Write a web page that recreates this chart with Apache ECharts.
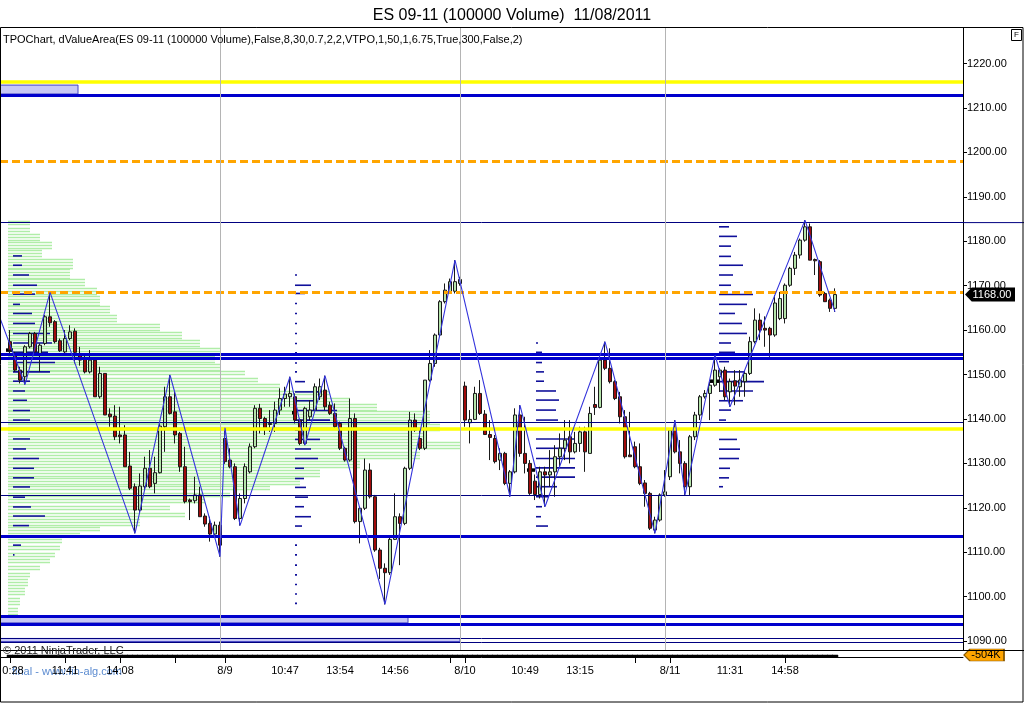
<!DOCTYPE html>
<html>
<head>
<meta charset="utf-8">
<title>ES 09-11 (100000 Volume)</title>
<script src="https://cdn.jsdelivr.net/npm/echarts@6.0.0/dist/echarts.min.js"></script>
<style>
	html, body { margin: 0; padding: 0; background: #fff; }
	#chart { width: 1024px; height: 703px; }
</style>
</head>
<body>
<div id="chart"></div>
<script>
// one bar per 100000 contracts: [open, close, low, high]
var day0808 = [
	[1157.4, 1155.5, 1154.75, 1160.0], [1154.75, 1151.0, 1150.6, 1155.1], [1151.0, 1148.75, 1148.0, 1151.75],
	[1149.5, 1156.25, 1147.75, 1156.6], [1156.25, 1159.25, 1155.9, 1159.6], [1159.25, 1155.1, 1154.75, 1159.6],
	[1154.75, 1156.6, 1150.6, 1157.0], [1157.0, 1163.0, 1156.6, 1163.4], [1163.0, 1161.65, 1160.75, 1168.5],
	[1161.9, 1157.4, 1157.0, 1162.25], [1157.6, 1155.35, 1155.1, 1158.1], [1155.1, 1158.1, 1154.75, 1160.0],
	[1158.1, 1159.6, 1157.75, 1161.1], [1159.75, 1155.0, 1152.5, 1160.4], [1154.75, 1153.25, 1152.0, 1156.25],
	[1153.6, 1150.6, 1150.25, 1154.75], [1150.6, 1153.25, 1150.25, 1155.5], [1153.25, 1145.0, 1145.0, 1153.6],
	[1145.0, 1150.25, 1144.6, 1151.75], [1150.25, 1140.9, 1140.9, 1150.25], [1141.1, 1140.5, 1138.25, 1142.4],
	[1140.65, 1136.0, 1135.25, 1143.1], [1136.4, 1136.0, 1134.5, 1142.75], [1136.4, 1129.25, 1129.25, 1138.6],
	[1129.4, 1124.4, 1124.0, 1132.6], [1124.75, 1119.5, 1114.25, 1125.5], [1119.5, 1124.9, 1118.75, 1127.75],
	[1124.75, 1128.9, 1124.0, 1131.5], [1128.9, 1124.75, 1124.4, 1133.0], [1125.5, 1127.9, 1123.25, 1131.5],
	[1127.9, 1138.4, 1127.75, 1139.0], [1138.25, 1145.0, 1132.6, 1147.25], [1145.0, 1141.25, 1141.0, 1149.9],
	[1141.6, 1136.4, 1134.5, 1146.1], [1136.75, 1129.25, 1128.1, 1137.1], [1129.25, 1121.4, 1121.0, 1133.75],
	[1121.75, 1121.4, 1117.25, 1122.1], [1121.6, 1122.9, 1121.0, 1127.0], [1122.9, 1118.0, 1118.0, 1124.75],
	[1118.15, 1116.35, 1115.75, 1118.75], [1116.5, 1114.1, 1112.4, 1118.0], [1114.1, 1116.1, 1113.9, 1116.9],
	[1116.1, 1111.6, 1109.0, 1116.9]
];
var day0809 = [
	[1135.6, 1130.4, 1129.9, 1138.0], [1130.75, 1129.25, 1128.9, 1133.4], [1129.25, 1117.6, 1117.25, 1130.0],
	[1117.6, 1122.1, 1116.0, 1123.25], [1122.1, 1129.25, 1121.0, 1130.0], [1128.1, 1133.75, 1127.75, 1134.5],
	[1133.75, 1142.4, 1133.4, 1143.1], [1142.4, 1140.1, 1136.75, 1143.4], [1140.1, 1137.9, 1136.4, 1140.5],
	[1138.75, 1139.0, 1137.1, 1142.0], [1139.0, 1142.0, 1137.1, 1143.9], [1142.0, 1144.6, 1140.9, 1146.9],
	[1144.6, 1145.6, 1142.75, 1147.25], [1145.0, 1145.75, 1142.75, 1149.5], [1145.0, 1139.75, 1139.0, 1145.75],
	[1139.75, 1134.5, 1134.1, 1140.1], [1134.5, 1142.4, 1134.1, 1142.75], [1140.5, 1142.0, 1139.75, 1144.25],
	[1142.0, 1147.25, 1142.0, 1148.0], [1145.0, 1147.25, 1144.25, 1149.1], [1146.5, 1142.75, 1142.0, 1149.75],
	[1143.1, 1141.25, 1140.9, 1143.9], [1141.25, 1138.25, 1137.9, 1143.5], [1139.0, 1133.4, 1133.0, 1139.4],
	[1133.4, 1130.75, 1130.4, 1133.75], [1130.75, 1140.1, 1130.4, 1144.6], [1140.1, 1116.9, 1116.5, 1141.25],
	[1116.9, 1119.9, 1112.0, 1120.25], [1119.9, 1128.5, 1119.5, 1131.1], [1128.5, 1122.5, 1122.1, 1130.0],
	[1122.5, 1110.5, 1110.1, 1122.9], [1110.5, 1106.4, 1104.0, 1111.0], [1106.4, 1105.4, 1098.25, 1107.5],
	[1105.4, 1112.9, 1104.9, 1113.5], [1112.9, 1118.0, 1112.75, 1123.25], [1118.0, 1116.5, 1107.1, 1118.75],
	[1116.5, 1128.9, 1116.1, 1129.25], [1128.9, 1139.75, 1128.5, 1141.6], [1139.75, 1137.5, 1137.1, 1141.25],
	[1135.6, 1133.4, 1133.0, 1137.5], [1133.4, 1148.75, 1133.0, 1148.75], [1148.75, 1152.5, 1148.4, 1155.5],
	[1152.5, 1158.9, 1151.75, 1159.25], [1158.9, 1166.4, 1158.5, 1166.75], [1166.4, 1169.0, 1166.0, 1170.5],
	[1168.25, 1170.9, 1168.25, 1171.6], [1168.75, 1170.9, 1168.25, 1175.75], [1170.5, 1171.4, 1170.0, 1172.0]
];
var day0810 = [
	[1147.4, 1139.75, 1138.25, 1148.4], [1139.15, 1139.9, 1134.5, 1142.0], [1139.9, 1145.75, 1139.75, 1147.25],
	[1145.75, 1141.25, 1140.9, 1148.75], [1141.1, 1136.5, 1136.4, 1142.0], [1136.5, 1135.85, 1130.75, 1139.75],
	[1135.6, 1130.4, 1130.0, 1136.4], [1130.75, 1132.25, 1128.5, 1133.4], [1132.25, 1125.5, 1125.1, 1132.6],
	[1125.5, 1128.1, 1122.5, 1128.5], [1128.1, 1140.9, 1127.75, 1142.4], [1140.9, 1132.25, 1131.5, 1143.1],
	[1132.25, 1130.0, 1127.75, 1140.5], [1130.0, 1123.25, 1122.9, 1130.75], [1126.0, 1123.0, 1121.75, 1127.5],
	[1123.0, 1128.1, 1122.1, 1129.25], [1128.1, 1127.4, 1120.25, 1129.25], [1127.4, 1128.1, 1124.75, 1133.0],
	[1128.1, 1131.5, 1122.5, 1134.1], [1131.5, 1133.4, 1129.25, 1136.75], [1133.4, 1135.25, 1130.75, 1139.75],
	[1136.0, 1132.6, 1130.0, 1139.75], [1132.6, 1134.5, 1132.25, 1137.1], [1134.5, 1137.1, 1132.6, 1138.25],
	[1137.1, 1132.6, 1128.1, 1138.25], [1132.25, 1141.25, 1132.25, 1142.75], [1143.25, 1142.6, 1140.9, 1147.25],
	[1142.6, 1153.25, 1142.4, 1154.0], [1153.25, 1151.4, 1151.0, 1157.4], [1151.4, 1148.4, 1148.0, 1155.9],
	[1148.4, 1144.6, 1144.25, 1148.75], [1145.0, 1140.5, 1139.0, 1146.1], [1140.5, 1131.5, 1131.1, 1142.0],
	[1131.9, 1131.5, 1131.5, 1141.6], [1133.75, 1129.25, 1128.9, 1134.9], [1129.25, 1125.5, 1125.1, 1134.5],
	[1125.6, 1123.25, 1120.25, 1126.25], [1123.25, 1115.4, 1115.0, 1123.6], [1115.0, 1117.25, 1114.25, 1118.0],
	[1117.25, 1122.9, 1116.9, 1123.25]
];
var day0811 = [
	[1122.9, 1123.6, 1122.5, 1128.5], [1127.0, 1137.5, 1126.25, 1137.5], [1137.5, 1132.6, 1132.25, 1139.75],
	[1132.6, 1130.0, 1127.75, 1135.25], [1130.0, 1124.75, 1122.9, 1130.5], [1124.75, 1136.0, 1122.9, 1136.4],
	[1136.0, 1140.9, 1135.25, 1141.6], [1140.9, 1145.0, 1139.75, 1145.4], [1145.0, 1145.75, 1144.6, 1146.5],
	[1145.75, 1147.6, 1139.75, 1148.4], [1147.6, 1151.0, 1147.25, 1154.4], [1149.5, 1151.0, 1146.1, 1151.4],
	[1151.0, 1145.0, 1144.25, 1151.75], [1146.1, 1148.4, 1142.75, 1149.1], [1148.6, 1147.4, 1143.1, 1151.0],
	[1147.25, 1148.75, 1145.0, 1151.0], [1148.4, 1150.25, 1145.0, 1151.0], [1150.25, 1157.4, 1149.9, 1158.5],
	[1157.4, 1162.25, 1157.0, 1164.9], [1162.25, 1160.0, 1157.75, 1163.75], [1160.4, 1160.0, 1156.25, 1163.1],
	[1160.4, 1158.9, 1154.0, 1160.75], [1158.9, 1166.1, 1158.5, 1167.9], [1162.6, 1167.1, 1162.25, 1168.6],
	[1162.6, 1170.1, 1161.5, 1170.5], [1170.1, 1173.9, 1169.75, 1174.25], [1173.9, 1176.9, 1172.4, 1177.6],
	[1176.9, 1180.25, 1176.1, 1180.6], [1180.25, 1183.25, 1179.9, 1184.75], [1183.25, 1175.75, 1175.75, 1184.0],
	[1175.9, 1175.6, 1172.4, 1176.1], [1175.4, 1167.9, 1167.5, 1175.75], [1168.25, 1166.4, 1166.4, 1168.6],
	[1166.75, 1164.9, 1164.1, 1167.1], [1164.9, 1168.0, 1164.1, 1169.4]
];
var barVolume = 100000;

// zigzag swing points (bar index, price)
var zigIdx = [-2, 3, 8, 25, 32, 42, 43, 46, 56, 59, 63, 75, 89, 100, 102, 107, 119, 129, 133, 135, 141, 144, 159, 165];
var zigPrice = [1162.7, 1147.75, 1168.5, 1114.25, 1149.9, 1109.0, 1138.0, 1116.0, 1149.5, 1134.1, 1149.75, 1098.25,
	1175.75, 1122.5, 1143.1, 1120.25, 1157.4, 1114.25, 1139.75, 1122.9, 1154.4, 1142.75, 1184.75, 1164.1];

// volume at price (composite profile)
var profilePrice = [1184.0, 1182.5, 1181.0, 1179.1, 1177.25, 1175.0, 1172.75, 1170.5, 1169.0, 1166.75,
	1164.5, 1162.6, 1160.75, 1158.9, 1157.0, 1155.5, 1153.25, 1151.75, 1150.25, 1148.75,
	1147.25, 1145.75, 1144.25, 1142.75, 1141.25, 1140.1, 1137.9, 1136.4, 1133.75, 1131.9,
	1129.6, 1128.1, 1125.9, 1124.4, 1122.9, 1121.4, 1119.9, 1118.4, 1116.9, 1115.0,
	1113.9, 1112.4, 1110.9, 1109.4, 1107.9, 1106.4, 1104.9, 1103.4, 1101.1, 1098.9, 1096.6];
var profileVol = [22, 22, 32, 44, 34, 65, 62, 77, 89, 92,
	102, 109, 152, 174, 192, 212, 207, 212, 237, 250,
	272, 322, 342, 369, 422, 422, 432, 417, 452, 412,
	352, 312, 292, 262, 222, 197, 162, 177, 132, 92,
	72, 54, 52, 47, 42, 32, 22, 20, 17, 12, 10];

// VTPO per session: start bar, price rows, length in bars
var tpoStart = [0.6, 57, 105.2, 141.8];
var tpoPrice = [
	[1176.7, 1174.6, 1172.4, 1170.1, 1168.1, 1165.8, 1163.75, 1161.5, 1159.25, 1157.1, 1155.0, 1152.7, 1150.6, 1148.5,
		1146.3, 1144.2, 1141.9, 1139.75, 1135.5, 1133.25, 1131.1, 1128.9, 1126.75, 1124.7, 1122.4, 1120.2, 1118.15, 1116.0, 1111.6, 1109.4],
	[1172.4, 1170.1, 1168.25, 1166.0, 1163.75, 1161.5, 1159.25, 1157.0, 1154.9, 1152.6, 1150.6, 1148.4, 1146.1, 1144.1,
		1141.9, 1139.75, 1137.5, 1135.4, 1133.25, 1131.1, 1128.9, 1126.6, 1124.6, 1122.4, 1120.25, 1118.0, 1115.9,
		1111.6, 1109.4, 1107.1, 1104.9, 1102.75, 1100.6, 1098.5],
	[1157.1, 1155.0, 1152.7, 1150.6, 1148.5, 1146.3, 1144.25, 1142.0, 1139.75, 1135.5, 1133.4, 1131.1, 1129.0, 1126.9,
		1124.75, 1122.5, 1120.25, 1118.0, 1115.9],
	[1183.25, 1181.1, 1178.9, 1176.6, 1174.6, 1172.4, 1170.1, 1168.0, 1165.8, 1163.75, 1161.5, 1159.25, 1157.1, 1155.0,
		1152.9, 1150.6, 1148.4, 1146.3, 1144.1, 1142.0, 1139.75, 1135.4, 1133.2, 1131.1, 1128.9, 1126.75, 1124.75]
];
var tpoLen = [
	[1.8, 1.8, 3.2, 4.8, 4.4, 1.4, 3.8, 4.4, 7.4, 7.8, 7.0, 8.4, 7.4, 3.4,
		2.4, 2.8, 3.4, 3.4, 3.4, 2.6, 5.2, 4.2, 4.2, 3.4, 2.4, 3.6, 6.4, 3.2, 1.6, 0.3],
	[0.4, 3.2, 2.0, 0.4, 0.4, 0.4, 0.4, 0.4, 0.4, 0.4, 0.4, 2.0, 5.4, 3.6,
		8.4, 7.0, 1.6, 5.0, 3.2, 4.6, 1.8, 1.8, 2.2, 2.6, 1.8, 3.2, 1.4,
		0.4, 0.4, 0.4, 0.4, 0.4, 0.4, 0.4],
	[0.4, 1.2, 1.2, 1.6, 1.6, 4.0, 4.6, 4.0, 4.4, 7.8, 6.0, 7.8, 7.8, 7.8,
		4.2, 2.6, 1.2, 1.0, 2.4],
	[2.0, 3.6, 2.4, 2.4, 4.8, 2.8, 2.4, 6.8, 5.6, 3.2, 4.6, 5.6, 2.4, 3.2,
		2.0, 5.2, 9.0, 6.8, 4.8, 2.4, 1.4, 3.6, 4.2, 4.0, 2.2, 2.0, 0.8]
];
// point of control marks: [from bar, to bar, price]
var pocMarks = [[-0.8, 0.6, 1155.5], [56.4, 57.2, 1141.4], [103.4, 105.0, 1128.5], [140, 141.8, 1148.5]];

// horizontal levels
var levelPrice = [1215.85, 1212.9, 1198.0, 1184.2, 1168.5, 1154.6, 1153.7, 1139.2, 1137.9, 1122.8, 1113.7, 1095.65, 1093.9, 1090.6, 1089.7];
var levelKind = ['yellow', 'blue', 'orange', 'navy', 'orange', 'blue', 'blue', 'navy', 'yellow', 'navy', 'blue', 'blue', 'blue', 'navy', 'navy'];
// shaded zones: [from bar, to bar, low, high]
var zoneBoxes = [[-2, 13.6, 1213.15, 1215.15], [-2, 79.6, 1094.1, 1095.65], [-2, 90, 1089.9, 1090.6]];
var sessionBreaks = [42, 90, 131];

var yTicks = [1090, 1100, 1110, 1120, 1130, 1140, 1150, 1160, 1170, 1180, 1190, 1200, 1210, 1220];
var labelIdx = [0.6, 11, 22, 43, 55, 66, 77, 91, 103, 114, 132, 144, 155];
var labelText = ['0:28', '11:41', '14:08', '8/9', '10:47', '13:54', '14:56', '8/10', '10:49', '13:15', '8/11', '11:31', '14:58'];
var tickIdx = [0, 11, 22, 33, 43, 88, 91, 125, 132, 155];
var volumeAxisTag = '-504K';

var xMin = -2, xMax = 190.6;
var FONT = '"Liberation Sans", Arial, sans-serif';

function $each(arr, fn) {
	for(var i = 0; i < arr.length; i++) fn(i, arr[i]);
}

var allBars = day0808.concat(day0809, day0810, day0811);
var candleData = [];
var volData = [];
$each(allBars, function(i, b) {
	candleData.push([i, b[0], b[1], b[2], b[3]]);
	volData.push([i, barVolume]);
});
var lastClose = allBars[allBars.length - 1][1];

var profileData = [];
$each(profilePrice, function(i, p) {
	profileData.push([profileVol[i], p]);
});
var tpoData = [];
$each(tpoPrice, function(d, rows) {
	$each(rows, function(j, p) {
		tpoData.push([tpoStart[d], p, tpoLen[d][j]]);
	});
});
var zigData = [];
$each(zigIdx, function(i, v) {
	zigData.push([v, zigPrice[i]]);
});

var levelStyle = {
	yellow: { color: '#ffff00', width: 3.5, type: 'solid' },
	blue: { color: '#0000cc', width: 3, type: 'solid' },
	orange: { color: '#ffa500', width: 3, type: [8, 4] },
	navy: { color: '#000080', width: 1, type: 'solid' }
};
var markLines = [];
$each(levelPrice, function(i, p) {
	markLines.push({ yAxis: p, lineStyle: levelStyle[levelKind[i]] });
});
$each(sessionBreaks, function(i, v) {
	markLines.push({ xAxis: v, lineStyle: { color: '#b4b4b4', width: 1, type: 'solid' } });
});
var markAreas = [];
$each(zoneBoxes, function(i, z) {
	markAreas.push([{ xAxis: z[0], yAxis: z[3] }, { xAxis: z[1], yAxis: z[2] }]);
});

// green profile rows drawn as thin stripes
function renderProfile(params, api) {
	var i = params.dataIndex;
	var p = api.value(1);
	var up = i > 0 ? (profilePrice[i - 1] + p) / 2 : p + 0.75;
	var dn = i < profilePrice.length - 1 ? (profilePrice[i + 1] + p) / 2 : p - 0.75;
	var a = api.coord([0, up]);
	var c = api.coord([api.value(0), dn]);
	var kids = [];
	for(var y = Math.round(a[1]) + 1; y < c[1]; y += 3) {
		kids.push({ type: 'line', shape: { x1: a[0], y1: y + 0.5, x2: c[0], y2: y + 0.5 }, style: { stroke: '#b0eda8', lineWidth: 1.5 } });
	}
	return { type: 'group', children: kids };
}

function renderTpo(params, api) {
	var s = api.coord([api.value(0), api.value(1)]);
	var e = api.coord([api.value(0) + api.value(2), api.value(1)]);
	return { type: 'line', shape: { x1: s[0], y1: s[1], x2: e[0], y2: e[1] }, style: { stroke: '#10109a', lineWidth: 1.6 } };
}

function renderPoc(params, api) {
	var s = api.coord([api.value(0), api.value(2)]);
	var e = api.coord([api.value(1), api.value(2)]);
	return { type: 'line', shape: { x1: s[0], y1: s[1], x2: e[0], y2: e[1] }, style: { stroke: '#000', lineWidth: 3.5 } };
}

function renderVol(params, api) {
	var a = api.coord([api.value(0) - 0.5, api.value(1)]);
	var c = api.coord([api.value(0) + 0.5, 0]);
	return { type: 'rect', shape: { x: Math.floor(a[0]), y: a[1], width: Math.ceil(c[0] - a[0]) + 1, height: c[1] - a[1] }, style: { fill: '#000', stroke: '#000', lineWidth: 0.5 } };
}

var chart = echarts.init(document.getElementById('chart'));
var option = {
	animation: false,
	backgroundColor: '#fff',
	textStyle: { fontFamily: FONT },
	title: {
		text: 'ES 09-11 (100000 Volume)  11/08/2011',
		left: 'center',
		top: 3,
		textStyle: { fontSize: 16, fontWeight: 'normal', color: '#000', fontFamily: FONT }
	},
	grid: [
		{ left: 0, top: 28, width: 963, height: 622, outerBoundsMode: 'none' },
		{ left: 0, top: 650, width: 963, height: 7, outerBoundsMode: 'none' }
	],
	xAxis: [
		{ type: 'value', gridIndex: 0, min: xMin, max: xMax, show: false },
		{ type: 'value', gridIndex: 0, min: -8, max: 955, show: false },
		{
			type: 'value', gridIndex: 1, min: xMin, max: xMax,
			axisLine: { show: true, onZero: false, lineStyle: { color: '#000', width: 1 } },
			splitLine: { show: false },
			axisTick: { show: true, customValues: tickIdx, length: 6, lineStyle: { color: '#000' } },
			axisLabel: {
				customValues: labelIdx, margin: 8, fontSize: 11, color: '#000', fontFamily: FONT,
				formatter: function(v) {
					var k = labelIdx.indexOf(v);
					return k < 0 ? '' : labelText[k];
				}
			}
		}
	],
	yAxis: [
		{
			type: 'value', gridIndex: 0, position: 'right', min: 1088, max: 1228,
			axisLine: { show: true, onZero: false, lineStyle: { color: '#000', width: 1 } },
			axisTick: { show: true, inside: false, length: 4, customValues: yTicks, lineStyle: { color: '#000' } },
			axisLabel: {
				customValues: yTicks, margin: 4, fontSize: 11, color: '#000', fontFamily: FONT,
				formatter: function(v) { return v.toFixed(2); }
			},
			splitLine: { show: false }
		},
		{ type: 'value', gridIndex: 1, min: 0, max: 350000, show: false, axisLine: { onZero: false } }
	],
	series: [
		{
			name: 'profile', type: 'custom', xAxisIndex: 1, yAxisIndex: 0, z: 1,
			renderItem: renderProfile, data: profileData, silent: true
		},
		{
			name: 'levels', type: 'line', xAxisIndex: 0, yAxisIndex: 0, z: 2,
			data: [[xMin, 1100]], symbol: 'none', lineStyle: { opacity: 0 }, silent: true,
			markArea: {
				silent: true,
				itemStyle: { color: '#c8c8f5', borderColor: '#4444c4', borderWidth: 1 },
				data: markAreas
			}
		},
		{
			name: 'tpo', type: 'custom', xAxisIndex: 0, yAxisIndex: 0, z: 3,
			renderItem: renderTpo, data: tpoData, silent: true
		},
		{
			name: 'poc', type: 'custom', xAxisIndex: 0, yAxisIndex: 0, z: 3,
			renderItem: renderPoc, data: pocMarks, silent: true
		},
		{
			name: 'ES', type: 'candlestick', xAxisIndex: 0, yAxisIndex: 0, z: 4,
			barWidth: 4,
			data: candleData,
			itemStyle: {
				color: '#b4e4aa', color0: '#a00c0c',
				borderColor: '#1a1a1a', borderColor0: '#1a1a1a', borderColorDoji: '#1a1a1a', borderWidth: 1
			},
			markPoint: {
				silent: true,
				symbol: 'path://M0,7L7,0L52,0L52,14L7,14Z',
				symbolSize: [50, 14],
				symbolKeepAspect: false,
				symbolOffset: [27, 0],
				itemStyle: { color: '#000' },
				label: { show: true, position: 'inside', color: '#fff', fontSize: 11, fontFamily: FONT, offset: [2, 0], formatter: lastClose.toFixed(2) },
				data: [{ coord: [xMax, lastClose] }]
			}
		},
		{
			name: 'zigzag', type: 'line', xAxisIndex: 0, yAxisIndex: 0, z: 5,
			data: zigData, symbol: 'none', lineStyle: { color: '#3434dc', width: 1.1 }, silent: true
		},
		{
			name: 'levelLines', type: 'line', xAxisIndex: 0, yAxisIndex: 0, z: 6,
			data: [[xMin, 1100]], symbol: 'none', lineStyle: { opacity: 0 }, silent: true,
			markLine: { silent: true, symbol: ['none', 'none'], label: { show: false }, data: markLines }
		},
		{
			name: 'volume', type: 'custom', xAxisIndex: 2, yAxisIndex: 1, z: 3,
			renderItem: renderVol, data: volData, silent: true
		},
		{
			name: 'volTag', type: 'line', xAxisIndex: 2, yAxisIndex: 1, z: 7,
			data: [[xMax, barVolume]], symbol: 'none', lineStyle: { opacity: 0 }, silent: true,
			markPoint: {
				silent: true,
				symbol: 'path://M0,6L6,0L40,0L40,12L6,12Z',
				symbolSize: [40, 12],
				symbolKeepAspect: false,
				symbolOffset: [21, 0],
				itemStyle: { color: '#ffa500', borderColor: '#8a5a00', borderWidth: 1 },
				label: { show: true, position: 'inside', color: '#000', fontSize: 11, fontFamily: FONT, offset: [2, 0], formatter: volumeAxisTag },
				data: [{ coord: [xMax, barVolume] }]
			}
		}
	],
	graphic: [
		{ id: 'frame', type: 'rect', shape: { x: 0.5, y: 27.5, width: 1022.5, height: 674.5 }, style: { fill: null, stroke: '#000', lineWidth: 1 }, z: 10, silent: true },
		{ id: 'split', type: 'line', shape: { x1: 0, y1: 650.5, x2: 1024, y2: 650.5 }, style: { stroke: '#000', lineWidth: 1 }, z: 10, silent: true },
		{ id: 'fbox', type: 'rect', shape: { x: 1011.5, y: 29.5, width: 10, height: 11 }, style: { fill: '#fff', stroke: '#000', lineWidth: 1 }, z: 10, silent: true },
		{ id: 'ftxt', type: 'text', x: 1016.5, y: 35, style: { text: 'F', fontSize: 8, fontFamily: FONT, fill: '#000', align: 'center', verticalAlign: 'middle' }, z: 11, silent: true },
		{ id: 'indi', type: 'text', x: 3, y: 40, style: { text: 'TPOChart, dValueArea(ES 09-11 (100000 Volume),False,8,30,0.7,2,2,VTPO,1,50,1,6.75,True,300,False,2)', fontSize: 11, fontFamily: FONT, fill: '#000', verticalAlign: 'middle' }, z: 10, silent: true },
		{ id: 'copy', type: 'text', x: 3, y: 651, style: { text: '\u00a9 2011 NinjaTrader, LLC', fontSize: 11, fontFamily: FONT, fill: '#222', verticalAlign: 'middle' }, z: 10, silent: true },
		{ id: 'site', type: 'text', x: 12, y: 672, style: { text: 'final - www.fin-alg.com', fontSize: 11, fontFamily: FONT, fill: '#5b8bd0', verticalAlign: 'middle' }, z: 0, silent: true }
	]
};
chart.setOption(option);

// the session high line runs across the price scale too
var yHigh = chart.convertToPixel({ yAxisIndex: 0 }, levelPrice[3]);
chart.setOption({
	graphic: [{ id: 'highExt', type: 'line', shape: { x1: 963, y1: yHigh, x2: 1024, y2: yHigh }, style: { stroke: '#000080', lineWidth: 1 }, z: 9, silent: true }]
});
</script>
</body>
</html>
